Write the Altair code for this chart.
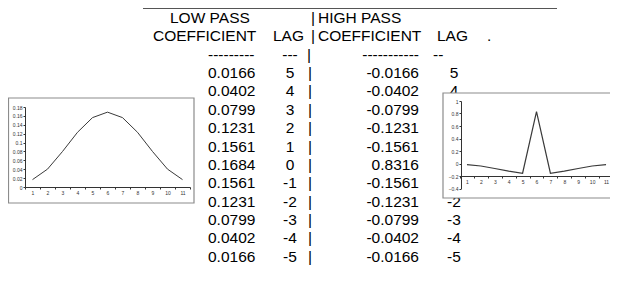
import altair as alt
import pandas as pd

# ---------------- data ----------------
lags = [5, 4, 3, 2, 1, 0, -1, -2, -3, -4, -5]
low_pass = [0.0166, 0.0402, 0.0799, 0.1231, 0.1561, 0.1684, 0.1561, 0.1231, 0.0799, 0.0402, 0.0166]
high_pass = [-0.0166, -0.0402, -0.0799, -0.1231, -0.1561, 0.8316, -0.1561, -0.1231, -0.0799, -0.0402, -0.0166]
positions = [1, 2, 3, 4, 5, 6, 7, 8, 9, 10, 11]
low_ticks = [0, 0.02, 0.04, 0.06, 0.08, 0.1, 0.12, 0.14, 0.16, 0.18]
high_ticks = [-0.4, -0.2, 0, 0.2, 0.4, 0.6, 0.8, 1]
title_low = "LOW PASS"
title_high = "HIGH PASS"
head_coef = "COEFFICIENT"
head_lag = "LAG"
dash_low = "---------"
dash_high = "-----------"
dash_lag_low = "---"
dash_lag_high = "--"
separator = "|"

# ---------------- styles / layout ----------------
FONT = "Liberation Sans"
FS = 15.5
ROW_SCALE = alt.Scale(domain=[-3, 10], range=[10, 248.7])

rows = list(range(len(lags)))
table = pd.DataFrame({
    "row": rows,
    "lp": [f"{v:.4f}" for v in low_pass],
    "lag": [str(v) for v in lags],
    "hp": [f"{v:.4f}" for v in high_pass],
    "sep": [separator] * len(rows),
})


def text_layer(data, field, x, align, size=FS):
    return alt.Chart(data).mark_text(
        align=align, baseline="middle", font=FONT, fontSize=size, color="black"
    ).encode(
        x=alt.value(x),
        y=alt.Y("row:Q", scale=ROW_SCALE, axis=None),
        text=alt.Text(f"{field}:N"),
    )


def label(text, row, x, align, size=FS):
    df = pd.DataFrame({"row": [row], "label": [text]})
    return text_layer(df, "label", x, align, size)


layers = [
    # top rule
    alt.Chart(alt.Data(values=[{}])).mark_rule(color="#555555", strokeWidth=1).encode(
        x=alt.value(135), x2=alt.value(549), y=alt.value(0.5)
    ),
    # headers
    label(title_low, -3, 162, "left"),
    label(separator, -3, 305, "center"),
    label(title_high, -3, 310, "left"),
    label(head_coef, -2, 145, "left"),
    label(head_lag, -2, 265, "left"),
    label(separator, -2, 305, "center"),
    label(head_coef, -2, 310, "left"),
    label(head_lag, -2, 429, "left"),
    label(".", -2, 479, "left"),
    label(dash_low, -1, 200, "left"),
    label(dash_lag_low, -1, 282, "center"),
    label(separator, -1, 301, "center"),
    label(dash_high, -1, 411, "right"),
    label(dash_lag_high, -1, 425, "left"),
    # table body
    text_layer(table, "lp", 200, "left"),
    text_layer(table, "lag", 282, "center"),
    text_layer(table, "sep", 302, "center"),
    text_layer(table, "hp", 411, "right"),
    # high-pass lag column: the rows hidden behind the inset chart are not drawn
    text_layer(table, "lag", 446, "center").transform_filter("datum.row < 2 || datum.row > 6"),
]

axis_common = dict(
    title=None, grid=False, labelFontSize=5, labelFont=FONT, labelColor="#333333",
    tickSize=2, tickColor="#333333", domainColor="#333333", domainWidth=1,
    tickWidth=1, labelPadding=1, zindex=1, labelOverlap=False,
)


def box(x, x2, y, y2):
    return alt.Chart(alt.Data(values=[{}])).mark_rect(
        fill="white", stroke="#8c8c8c", strokeWidth=1.2
    ).encode(x=alt.value(x), x2=alt.value(x2), y=alt.value(y), y2=alt.value(y2))


low_df = pd.DataFrame({"pos": positions, "value": low_pass})
high_df = pd.DataFrame({"pos": positions, "value": high_pass})

left_line = alt.Chart(low_df).mark_line(color="#3a3a3a", strokeWidth=1).encode(
    x=alt.X("pos:O", bandPosition=0.5,
            scale=alt.Scale(type="band", range=[17, 182], paddingInner=0, paddingOuter=0),
            axis=alt.Axis(orient="bottom", offset=-88, tickBand="extent", labelAngle=0, **axis_common)),
    y=alt.Y("value:Q",
            scale=alt.Scale(domain=[0, 0.18], range=[179, 99], nice=False, zero=False),
            axis=alt.Axis(orient="left", offset=-17, values=low_ticks, format=".2~f",
                          labelFlush=False, **axis_common)),
)

right_line = alt.Chart(high_df).mark_line(color="#3a3a3a", strokeWidth=1.2).encode(
    x=alt.X("pos:O", bandPosition=0.5,
            scale=alt.Scale(type="band", range=[452, 605], paddingInner=0, paddingOuter=0),
            axis=alt.Axis(orient="bottom", offset=-99, tickBand="extent", labelAngle=0, **axis_common)),
    y=alt.Y("value:Q",
            scale=alt.Scale(domain=[-0.4, 1], range=[180.5, 93], nice=False, zero=False),
            axis=alt.Axis(orient="left", offset=-453, values=high_ticks, format=".1~f",
                          labelFlush=False, **axis_common)),
)

layers += [box(0.5, 186, 90, 195), left_line, box(435, 640, 85, 190), right_line]

chart = alt.layer(*layers).resolve_scale(
    x="independent", y="independent"
).resolve_axis(
    x="independent", y="independent"
).properties(
    width=602, height=267, padding=0, autosize=alt.AutoSizeParams(type="none")
).configure_view(stroke=None)

chart.save("out.html", embed_options={"renderer": "svg", "actions": False})
